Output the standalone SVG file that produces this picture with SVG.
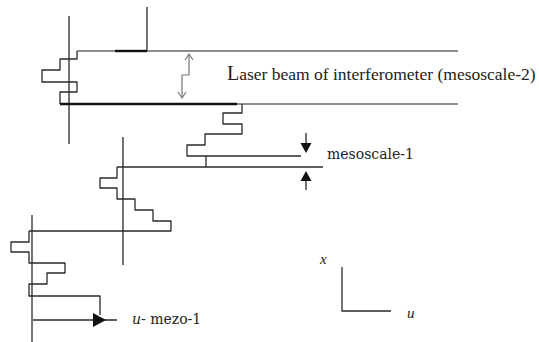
<svg xmlns="http://www.w3.org/2000/svg" width="539" height="342" viewBox="0 0 539 342">
<style>
.ln{fill:none;stroke:#2a2a2a;stroke-width:1.3;stroke-linejoin:round}
.gr{fill:none;stroke:#666;stroke-width:1.3}
.tk{fill:none;stroke:#111;stroke-width:2.4}
.sq{fill:none;stroke:#777;stroke-width:1.2;stroke-linejoin:round}
.ah{fill:#111;stroke:none}
.t1{font-family:"Liberation Serif",serif;fill:#222}
.t2{font-family:"DejaVu Serif","Liberation Serif",serif;font-size:14px;fill:#222}
.it{font-family:"Liberation Serif",serif;font-style:italic;font-size:15px;fill:#222}
</style>
<rect width="539" height="342" fill="#fff"/>
<g id="mesoscale-2">
<line class="ln" x1="69" y1="16" x2="69" y2="144"/>
<polyline class="ln" points="147,7 147,51"/>
<line class="gr" x1="77" y1="51" x2="458" y2="51"/>
<line class="tk" x1="115" y1="51" x2="147" y2="51"/>
<polyline class="ln" points="77,51 77,59 60,59 60,70 42,70 42,82 77,82 77,92 60,92 60,104"/>
<line class="gr" x1="60" y1="104" x2="458" y2="104"/>
<line class="tk" x1="60" y1="104" x2="237" y2="104"/>
<polyline class="sq" points="189,55 189,75 182,75 182,97"/>
<polyline class="sq" points="185,60 189,54 193,60"/>
<polyline class="sq" points="178,92 182,98 186,92"/>
<text class="t1" x="227" y="80"><tspan font-size="20">L</tspan><tspan font-size="17.5">aser beam of interferometer (mesoscale-2)</tspan></text>
</g>
<g id="mesoscale-1">
<polyline class="ln" points="242,104 242,113 223,113 223,124 242,124 242,134 205,134 205,145 187,145 187,156 301,156"/>
<line class="ln" x1="206" y1="156" x2="206" y2="167"/>
<line class="ln" x1="117" y1="167" x2="323" y2="167"/>
<line class="ln" x1="306" y1="133" x2="306" y2="145"/>
<polygon class="ah" points="300.5,143 311.5,143 306,153"/>
<line class="ln" x1="306" y1="178" x2="306" y2="190"/>
<polygon class="ah" points="306,171 300.5,181 311.5,181"/>
<text class="t2" x="327" y="159">mesoscale-1</text>
</g>
<g id="level-2">
<line class="ln" x1="123" y1="137" x2="123" y2="265"/>
<polyline class="ln" points="117,167 117,178 100,178 100,188 117,188 117,199 135,199 135,210 153,210 153,221 171,221 171,231 29,231"/>
</g>
<g id="level-3">
<line class="ln" x1="32" y1="215" x2="32" y2="342"/>
<polyline class="ln" points="29,231 29,242 11,242 11,252 29,252 29,263 65,263 65,273 47,273 47,284 29,284 29,296 100,296 100,315"/>
<line class="ln" x1="33" y1="320" x2="117" y2="320"/>
<polygon class="ah" points="93,313 93,327 106,320"/>
<text class="t2" x="132" y="324"><tspan font-style="italic">u</tspan>- mezo-1</text>
</g>
<g id="axes">
<polyline class="ln" points="342,267 342,311 391,311"/>
<text class="it" x="320" y="264">x</text>
<text class="it" x="407" y="318">u</text>
</g>
</svg>
